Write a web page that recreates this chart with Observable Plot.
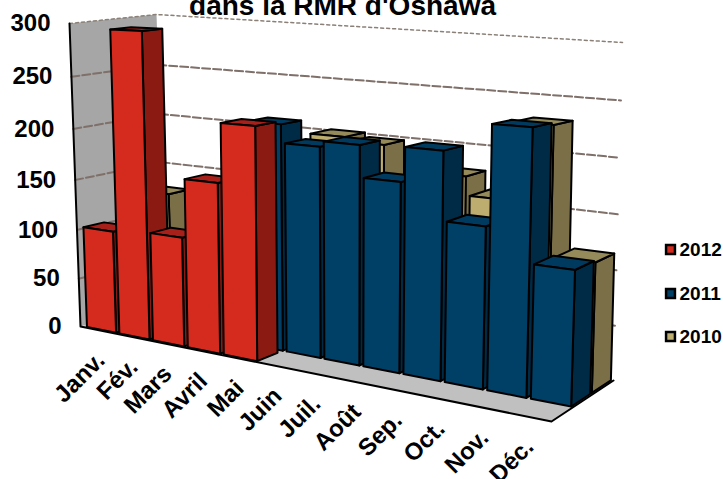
<!DOCTYPE html>
<html><head><meta charset="utf-8">
<script src="https://cdn.jsdelivr.net/npm/d3@7"></script>
<script src="https://cdn.jsdelivr.net/npm/@observablehq/plot@0.6"></script>
<style>html,body{margin:0;padding:0;background:#fff}svg{display:block}</style>
</head><body><div id="chart"></div>
<script>
const months = ["Janv.","Fév.","Mars","Avril","Mai","Juin","Juil.","Août","Sep.","Oct.","Nov.","Déc."];
// null: no bar, or hidden behind a nearer bar in the picture
const values2012 = [103,296,107,163,218,null,null,null,null,null,null,null];
const values2011 = [null,null,null,null,215,198,203,174,205,144,231,117];
const values2010 = [127,null,null,null,null,202,198,null,177,160,229,115];
const yTicks = [0,50,100,150,200,250,300];
const seriesNames = ["2012","2011","2010"];
const seriesFront = ["#d52b1e","#003f66","#bdae70"];
const seriesSide = ["#8b1a12","#002b47","#7a6f46"];
const seriesTop = ["#a8201a","#003a5e","#948a5a"];
const title = "dans la RMR d'Oshawa";

// scene box → page: corners of the 3-D box (front/back, left/right, floor/top)
const box = {
  fl0:[80,326], fl1:[69,23], fr0:[551,421], fr1:[562,45],
  bl0:[166,300], bl1:[156,14], br0:[613,380], br1:[622,42]
};
const warp = 0.23, vWarp = 0.066, vMax = 300, gapW = 0.05, rows = 3, uStart = 0.1;
const mix = (a,b,t) => [a[0]+(b[0]-a[0])*t, a[1]+(b[1]-a[1])*t];
function project(u, r, v) {
  const w = (u+uStart)/(12+uStart), s = (w + warp*w*w)/(1+warp), d = r/rows, k = v/vMax;
  const t = k - vWarp*(1-0.5*s*d)*k*(1-k);
  const f0 = mix(box.fl0,box.fr0,s), f1 = mix(box.fl1,box.fr1,s);
  const b0 = mix(box.bl0,box.br0,s), b1 = mix(box.bl1,box.br1,s);
  return mix(mix(f0,b0,d), mix(f1,b1,d), t);
}
const polys = [];
let pid = 0;
function face(points, fill) {
  const id = pid++;
  [...points, points[0]].forEach(p => polys.push({x:p[0], y:p[1], id, fill}));
}
[values2012, values2011, values2010].map((vals,r)=>[vals,r]).reverse().forEach(([vals,r]) => {
  vals.forEach((v,i) => {
    if (v == null) return;
    // bars are shallower than their row on the far-left side of the picture
    const a=i+gapW, b=i+1-gapW, n=r+0.06, f=r+0.98-0.22*(1-(i+1)/12);
    face([project(b,n,0),project(b,f,0),project(b,f,v),project(b,n,v)], seriesSide[r]);
    face([project(a,n,v),project(b,n,v),project(b,f,v),project(a,f,v)], seriesTop[r]);
    face([project(a,n,0),project(b,n,0),project(b,n,v),project(a,n,v)], seriesFront[r]);
  });
});
const seg = (a,b) => [{x:a[0],y:a[1]},{x:b[0],y:b[1]}];
const wall = [box.fl0,box.fl1,box.bl1,box.bl0,box.fl0].map(p=>({x:p[0],y:p[1]}));
const floor = [box.fl0,box.fr0,box.br0,box.bl0,box.fl0].map(p=>({x:p[0],y:p[1]}));
const grid = yTicks.filter(v=>v>0&&v<300).flatMap(v=>[
  ...seg(project(-uStart,0,v),project(-uStart,3,v)).map(p=>({...p,v:"s"+v})),
  ...seg(project(-uStart,3,v),project(12,3,v)).map(p=>({...p,v:"b"+v}))]);
const top300 = [project(-uStart,0,300),project(-uStart,3,300),project(12,3,300)].map(p=>({x:p[0],y:p[1]}));
const yLabels = yTicks.map(v=>{const p=project(-uStart,0,v);return {x:p[0],y:p[1],v:String(v)}});
const xLabels = months.map((m,i)=>{const p=project(i+0.5,0,0);return {x:p[0],y:p[1],m}});
const legend = seriesNames.map((n,i)=>({x:670,y:[249,293,336][i],n,c:seriesFront[i]}));

const chart = Plot.plot({
  width:723, height:479, margin:0,
  x:{domain:[0,723],range:[0,723],axis:null},
  y:{domain:[0,479],range:[0,479],axis:null},
  style:{fontFamily:"'Liberation Sans',Arial,sans-serif",background:"#fff",overflow:"hidden"},
  marks:[
    Plot.line(wall,{x:"x",y:"y",fill:"#a6a6a6",stroke:"none"}),
    Plot.line(floor,{x:"x",y:"y",fill:"#c0c0c0",stroke:"none"}),
    Plot.line(grid,{x:"x",y:"y",z:"v",stroke:"#7f706a",strokeWidth:2,strokeDasharray:"8,3"}),
    Plot.line(top300,{x:"x",y:"y",stroke:"#8a8078",strokeWidth:1.5,strokeDasharray:"3,3"}),
    Plot.line([box.fl1,box.fl0,box.fr0,box.br0].map(p=>({x:p[0],y:p[1]})),{x:"x",y:"y",stroke:"#000",strokeWidth:2}),
    Plot.line(polys,{x:"x",y:"y",z:"id",fill:"fill",stroke:"#000",strokeWidth:2,strokeLinejoin:"round"}),
    Plot.text(yLabels,{x:"x",y:"y",text:"v",textAnchor:"end",dx:-19,dy:0,fontSize:24,fontWeight:"bold",fill:"#000"}),
    Plot.text(xLabels,{x:"x",y:"y",text:"m",textAnchor:"end",rotate:-45,dx:1,dy:26,fontSize:24,fontWeight:"bold",fill:"#000"}),
    Plot.text([title],{x:()=>342,y:()=>6,text:d=>d,fontSize:28,fontWeight:"bold",fill:"#000"}),
    Plot.dot(legend,{x:"x",y:"y",symbol:"square",r:5,fill:"c",stroke:"#000",strokeWidth:2.5}),
    Plot.text(legend,{x:d=>d.x+9,y:"y",text:"n",textAnchor:"start",fontSize:19,fontWeight:"bold",fill:"#000"})
  ]
});
document.getElementById("chart").append(chart);
</script></body></html>
